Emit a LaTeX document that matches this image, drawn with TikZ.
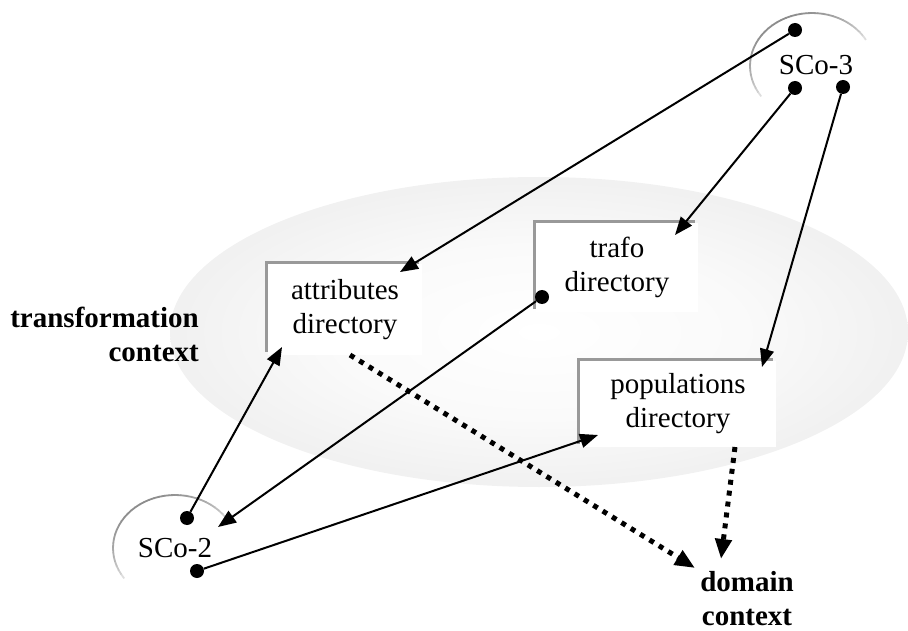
\documentclass[tikz,border=0pt]{standalone}
\usepackage{fontspec}
\setmainfont{Liberation Serif}
\usetikzlibrary{arrows.meta, shadows}

\pgfdeclareradialshading{ctxshade}{\pgfpoint{0bp}{0bp}}{color(0bp)=(white); color(14bp)=(gray!4); color(38bp)=(gray!20); color(50bp)=(gray!20)}

\begin{document}
\begin{tikzpicture}[x=1pt, y=-1pt,
    every node/.style={font=\fontsize{29}{34}\selectfont},
    dir/.style={fill=white, align=center, inner sep=0pt,
        general shadow={fill=gray!80, shadow xshift=-3pt, shadow yshift=3pt}},
    dot/.style={circle, fill=black, minimum size=14pt, inner sep=0pt},
    ctx/.style={font=\fontsize{29}{34}\selectfont\bfseries, inner sep=0pt},
    link/.style={line width=2pt, -{Triangle[length=18pt, width=14pt]}},
    dep/.style={line width=5pt, dash pattern=on 5pt off 6pt, -{Triangle[length=20pt, width=16pt]}}]
    \useasboundingbox (0,0) rectangle (908,631);

    % transformation context area
    \path[shading=ctxshade] (539,332) ellipse [x radius=369, y radius=155];

    % fading arcs round the SCo's
    \foreach \cx/\cy in {175/548, 812/66}
        \foreach \a in {140,145,...,325} {
            \pgfmathsetmacro\p{45*sqrt(max(sin((\a-140)/190*180),0))}
            \draw[black!\p!white, line width=1.8pt] (\cx,\cy) ++(\a:62 and 53)
                arc[start angle=\a, end angle=\a+5.5, x radius=62, y radius=53];
        }

    \node[dir, minimum width=154pt, minimum height=91pt] (attr) at (345,309.5) {attributes\\directory};
    \node[dir, minimum width=162pt, minimum height=89pt] (trafo) at (617,267.5) {trafo\\directory};
    \node[dir, minimum width=196pt, minimum height=86pt] (pop) at (678,404) {populations\\directory};

    \node[ctx, anchor=east, align=right] (trans) at (199,334) {transformation\\context};
    \node[ctx, align=center] (domain) at (747,599) {domain\\context};
    \node (sco3) at (816,65.5) {SCo-3};
    \node (sco2) at (175,548.5) {SCo-2};

    \node[dot] (s3a) at (795,30) {};
    \node[dot] (s3b) at (795,88) {};
    \node[dot] (s3c) at (843,87) {};
    \node[dot] (s2a) at (187,518) {};
    \node[dot] (s2b) at (197,571) {};
    \node[dot] (td) at (542,297) {};

    \coordinate (attr-top) at (400,272);
    \coordinate (attr-bot) at (282,347);
    \coordinate (attr-out) at (350,355);
    \coordinate (trafo-in) at (675,235);
    \coordinate (pop-top) at (762,367);
    \coordinate (pop-left) at (598,435);
    \coordinate (pop-out) at (735,447);
    \coordinate (sco2-in) at (218,527);
    \coordinate (dom-a) at (695,568);
    \coordinate (dom-b) at (721,559);

    \draw[link] (s3a) -- (attr-top);
    \draw[link] (s3b) -- (trafo-in);
    \draw[link] (s3c) -- (pop-top);
    \draw[link] (s2a) -- (attr-bot);
    \draw[link] (td) -- (sco2-in);
    \draw[link] (s2b) -- (pop-left);

    \draw[dep] (attr-out) -- (dom-a);
    \draw[dep] (pop-out) -- (dom-b);
\end{tikzpicture}
\end{document}
